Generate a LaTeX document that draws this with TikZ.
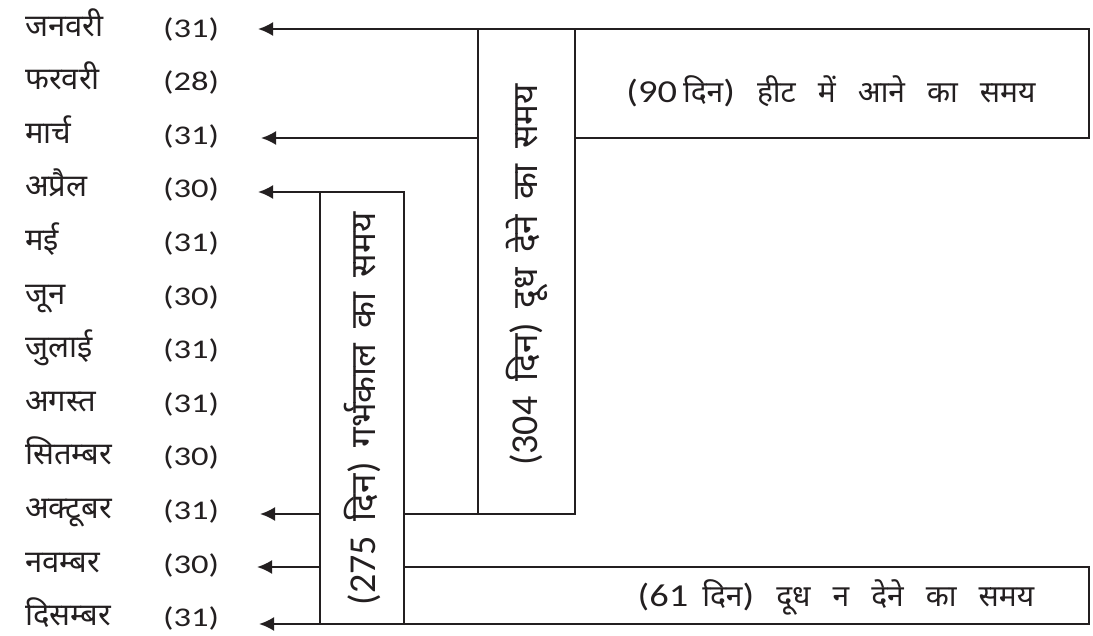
\documentclass[tikz,border=0pt]{standalone}
\usepackage{fontspec}
\setmainfont[Script=Devanagari]{Noto Sans}
\newfontfamily\numfont[FakeStretch=1.28]{Carlito}
\newfontfamily\capnumfont[FakeStretch=1.2]{Carlito}
\newfontfamily\sidenumfont{Carlito}
\usetikzlibrary{arrows.meta,backgrounds}
\definecolor{ink}{RGB}{35,31,32}
% word gaps used in the box captions
\newcommand\capgaps{\spaceskip 22pt\relax}
\newcommand\sidegaps{\spaceskip 15pt\relax}
\newcommand\capnum[1]{{\capnumfont\fontsize{32}{36}\selectfont #1}}
\newcommand\sidenum[1]{{\sidenumfont\fontsize{38}{40}\selectfont #1}}

\begin{document}
\begin{tikzpicture}[x=1pt,y=-1pt,
  rule/.style={line width=2.2pt, draw=ink},
  pointer/.style={rule, -{Latex[length=15pt,width=14pt]}},
  period/.style={rule, fill=white, inner sep=0pt, outer sep=0pt, anchor=north west},
  month/.style={anchor=base west, inner sep=0pt, text depth=0pt, text=ink, font=\fontsize{31}{36}\selectfont},
  days/.style={anchor=base west, inner sep=0pt, text=ink, font=\numfont\fontsize{27}{31}\selectfont},
  caption/.style={anchor=base, inner sep=0pt, text=ink,
    font=\fontsize{30}{36}\selectfont\capgaps},
  sidecaption/.style={rotate=90, inner sep=0pt, text=ink,
    font=\fontsize{35}{40}\selectfont\sidegaps},
]
\useasboundingbox (0,0) rectangle (1093,635);

% month list with day counts
\foreach \i/\m/\d in {1/जनवरी/31, 2/फरवरी/28, 3/मार्च/31, 4/अप्रैल/30,
                      5/मई/31, 6/जून/30, 7/जुलाई/31, 8/अगस्त/31,
                      9/सितम्बर/30, 10/अक्टूबर/31, 11/नवम्बर/30, 12/दिसम्बर/31}{
  \node[month] (m\i) at (25, 36+53.6*\i-53.6) {\m};
  \node[days]  (d\i) at (163, 37+53.6*\i-53.6) {(\d)};
}

% arrow tips beside the months
\coordinate (tjan) at (258,29);
\coordinate (tmar) at (261,138);
\coordinate (tapr) at (258,192);
\coordinate (toct) at (260,514);
\coordinate (tnov) at (257,567);
\coordinate (tdec) at (259,624);

% period boxes
\node[period, minimum width=514pt, minimum height=109pt] (b90)  at (575,29)  {};
\node[period, minimum width=97pt,  minimum height=485pt] (b304) at (478,29)  {};
\node[period, minimum width=685pt, minimum height=57pt]  (b61)  at (404,567) {};
\node[period, minimum width=84pt,  minimum height=432pt] (b275) at (320,192) {};

% pointers from the boxes to the months
\begin{scope}[on background layer]
  \draw[pointer] (b304.north west) -- (tjan);
  \draw[pointer] (b304.west |- b90.south) -- (tmar);
  \draw[pointer] (b275.north east) -- (tapr);
  \draw[pointer] (b304.south west) -- (toct);
  \draw[pointer] (b61.north west) -- (tnov);
  \draw[pointer] (b61.south west) -- (tdec);
\end{scope}

% captions
\node[caption] (c90) at (831,102) {\capnum{(90}\hspace{6pt}दिन\capnum{)} हीट में आने का समय};
\node[caption] (c61) at (836,606) {\capnum{(61}\hspace{14pt}दिन\capnum{)} दूध न देने का समय};
\node[sidecaption] (c304) at (527,275) {\sidenum{(304} दिन\sidenum{)} दूध देने का समय};
\node[sidecaption] (c275) at (362,409) {\sidenum{(275} दिन\sidenum{)} गर्भकाल का समय};
\end{tikzpicture}
\end{document}
